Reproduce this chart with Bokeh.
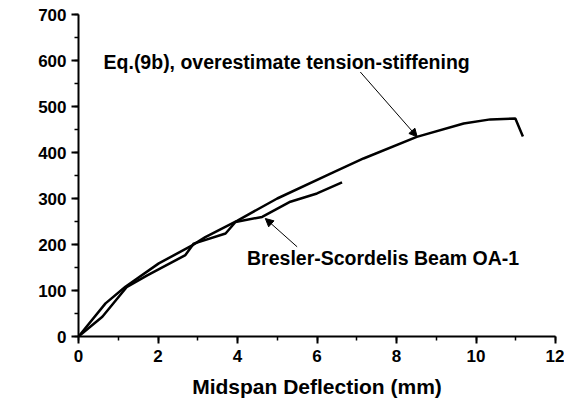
import math
from bokeh.plotting import figure
from bokeh.models import Range1d, Label, Arrow, NormalHead, FixedTicker
from bokeh.embed import file_html
from bokeh.resources import INLINE

# Load-deflection data (mm, kN)
eq_deflection = [0, 0.68, 1.18, 2.02, 2.86, 3.19, 4.0, 5.0, 6.34, 7.17, 8.51, 9.69, 10.36, 10.99, 11.18]
eq_load = [0, 72, 108, 159, 198, 216, 252, 300, 354, 387, 434, 463, 472, 474, 435]

test_deflection = [0, 0.6, 1.22, 1.73, 2.69, 2.9, 3.7, 3.95, 4.62, 5.33, 6.0, 6.63]
test_load = [0, 43, 108, 133, 177, 202, 224, 249, 260, 293, 311, 335]

x_ticks = [0, 2, 4, 6, 8, 10, 12]
y_ticks = [0, 100, 200, 300, 400, 500, 600, 700]

FONT = "Liberation Sans"

p = figure(
    width=564, height=403,
    x_range=Range1d(0, 12), y_range=Range1d(0, 700),
    output_backend="svg", toolbar_location=None,
    min_border_left=78, min_border_right=9,
    min_border_top=14, min_border_bottom=67,
)
p.outline_line_color = None
p.grid.grid_line_color = None
p.background_fill_color = "white"

for ax in (p.xaxis[0], p.yaxis[0]):
    ax.axis_line_width = 2
    ax.major_tick_line_width = 2
    ax.minor_tick_line_width = 1.5
    ax.major_tick_out = 7
    ax.major_tick_in = 0
    ax.minor_tick_out = 4
    ax.minor_tick_in = 0
    ax.major_label_text_font = FONT
    ax.major_label_text_font_style = "bold"
    ax.major_label_text_font_size = "17px"
    ax.major_label_text_color = "black"
    ax.axis_label_text_font = FONT
    ax.axis_label_text_font_style = "bold"
    ax.axis_label_text_font_size = "21px"
    ax.axis_label_text_color = "black"

p.xaxis[0].ticker = FixedTicker(ticks=x_ticks, minor_ticks=list(range(0, 13)))
p.yaxis[0].ticker = FixedTicker(ticks=y_ticks, minor_ticks=list(range(0, 701, 50)))
p.xaxis[0].major_label_standoff = 6
p.yaxis[0].major_label_standoff = 5
p.xaxis.axis_label = "Midspan Deflection (mm)"
p.xaxis[0].axis_label_standoff = 10

# vertical axis title drawn as a rotated label
p.add_layout(Label(
    x=-59, y=148, x_units="screen", y_units="screen",
    text="Load (kN)", angle=math.pi / 2,
    text_align="center", text_baseline="middle",
    text_font=FONT, text_font_style="bold", text_font_size="21px",
    text_color="black",
))

p.line(eq_deflection, eq_load, line_color="black", line_width=2.5)
p.line(test_deflection, test_load, line_color="black", line_width=2.5)

# annotations
p.add_layout(Label(
    x=0.63, y=597, text="Eq.(9b), overestimate tension-stiffening",
    text_baseline="middle", text_font=FONT, text_font_style="bold",
    text_font_size="19.5px", text_color="black",
))
p.add_layout(Arrow(
    x_start=7.09, y_start=575, x_end=8.52, y_end=434,
    line_width=1, line_color="black",
    end=NormalHead(size=8, fill_color="black", line_color="black", line_width=1),
))
p.add_layout(Label(
    x=4.24, y=170, text="Bresler-Scordelis Beam OA-1",
    text_baseline="middle", text_font=FONT, text_font_style="bold",
    text_font_size="19.5px", text_color="black",
))
p.add_layout(Arrow(
    x_start=5.5, y_start=195, x_end=4.70, y_end=256.5,
    line_width=1, line_color="black",
    end=NormalHead(size=8, fill_color="black", line_color="black", line_width=1),
))

open("out.html", "w").write(file_html(p, INLINE))
